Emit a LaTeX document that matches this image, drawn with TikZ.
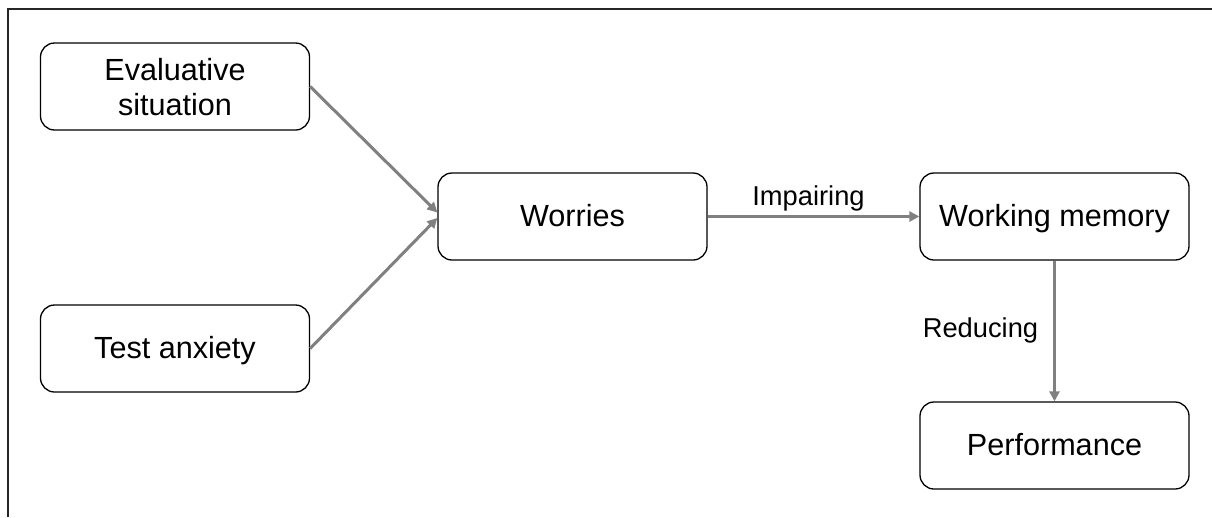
\documentclass[tikz,border=0pt]{standalone}
\usepackage{fontspec}
\setmainfont{Liberation Sans}
\usetikzlibrary{arrows.meta}
\definecolor{arrowgray}{RGB}{128,128,128}
\begin{document}
\begin{tikzpicture}[x=1pt,y=-1pt,
  box/.style={draw=black, line width=1.3pt, rounded corners=14pt, fill=white,
    minimum width=269pt, minimum height=87pt, inner sep=0pt,
    font=\fontsize{30.6pt}{35pt}\selectfont, align=center},
  oneline/.style={box, text height=22pt, text depth=3pt},
  twoline/.style={box, text height=57pt, text depth=-3pt},
  conn/.style={draw=arrowgray, line width=3pt,
    -{Triangle[length=10pt,width=10pt]}},
  lbl/.style={font=\fontsize{27.3pt}{32pt}\selectfont, anchor=base, inner sep=0pt}]
\useasboundingbox (0,0) rectangle (1212,517);
\draw[line width=1.8pt, color=black!85] (8,517) -- (8,9) -- (1212,9);
\node[twoline] (evs) at (175,86.5) {Evaluative\\situation};
\node[oneline] (ta) at (175,348.5) {Test anxiety};
\node[oneline] (w) at (572.5,216.5) {Worries};
\node[oneline] (wm) at (1054.5,216.5) {Working memory};
\node[oneline] (perf) at (1054.5,445.5) {Performance};
\draw[conn] (evs.east) -- ([yshift=4pt]w.west);
\draw[conn] (ta.east) -- ([yshift=-1.5pt]w.west);
\draw[conn] (w.east) -- (wm.west);
\draw[conn] (wm.south) -- (perf.north);
\node[lbl] (l1) at (808.5,205) {Impairing};
\node[lbl] (l2) at (980.5,337) {Reducing};
\end{tikzpicture}
\end{document}
